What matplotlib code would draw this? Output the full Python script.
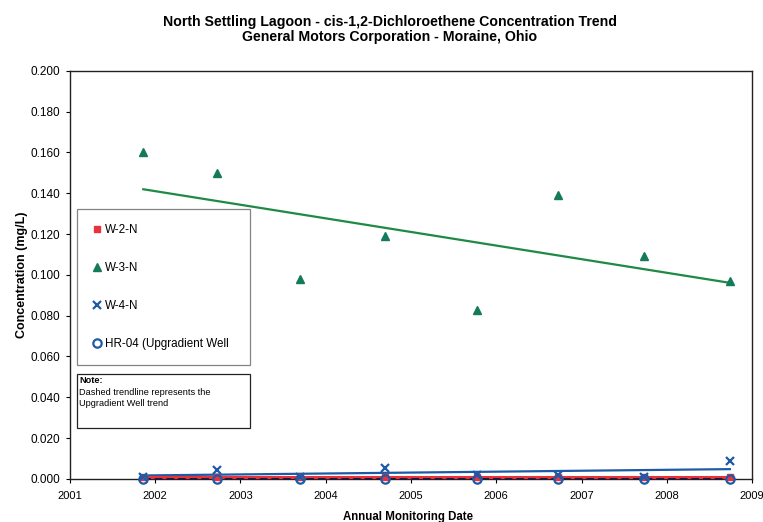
import numpy as np
import matplotlib
matplotlib.use("Agg")
import matplotlib.pyplot as plt
from matplotlib.patches import Rectangle

plt.rcParams['font.family'] = ['Liberation Sans', 'DejaVu Sans']

# ---- data ----
dates = [2001.86, 2002.72, 2003.70, 2004.69, 2005.78, 2006.73, 2007.73, 2008.74]
w2n = [0.0008, 0.0008, 0.0008, 0.0008, 0.0008, 0.0008, 0.0008, 0.0008]
w3n = [0.160, 0.150, 0.098, 0.119, 0.083, 0.139, 0.109, 0.097]
w4n = [0.001, 0.0045, 0.001, 0.0055, 0.002, 0.002, 0.001, 0.009]
hr04 = [0.0, 0.0, 0.0, 0.0, 0.0, 0.0, 0.0, 0.0]
series_names = ["W-2-N", "W-3-N", "W-4-N", "HR-04 (Upgradient Well"]
y_ticks = [0.000, 0.020, 0.040, 0.060, 0.080, 0.100, 0.120, 0.140, 0.160, 0.180, 0.200]
x_ticks = [2001, 2002, 2003, 2004, 2005, 2006, 2007, 2008, 2009]

fig = plt.figure(figsize=(7.63, 5.22), dpi=100)
ax = fig.add_axes([0.0917, 0.0824, 0.8939, 0.7822])

x = np.array(dates)

def trend(vals):
    p = np.polyfit(x, np.array(vals), 1)
    return np.polyval(p, x)

c_red = '#e8333d'
c_green = '#1e8a45'
c_tri = '#137a5a'
c_blue = '#1f5aa6'

# trendlines
ax.plot(x, trend(w3n), color=c_green, lw=1.6, zorder=2)
ax.plot(x, trend(w4n), color=c_blue, lw=1.6, zorder=2, clip_on=False)
ax.plot(x, trend(w2n), color=c_red, lw=2.2, zorder=3, clip_on=False)
ax.plot(x, trend(hr04), color='#1a1a3a', lw=1.4, ls=(0, (4, 2)), zorder=4, clip_on=False)

# markers
ax.plot(x, w2n, ls='none', marker='s', ms=5, color=c_red, label=series_names[0], zorder=5, clip_on=False)
ax.plot(x, w3n, ls='none', marker='^', ms=5.5, color=c_tri, label=series_names[1], zorder=5, clip_on=False)
ax.plot(x, w4n, ls='none', marker='x', ms=5.5, mew=1.6, color=c_blue, label=series_names[2], zorder=6, clip_on=False)
ax.plot(x, hr04, ls='none', marker='o', ms=6, mew=1.6, mfc='none', mec=c_blue, label=series_names[3], zorder=6, clip_on=False)

ax.set_xlim(2001, 2009)
ax.set_ylim(0, 0.2)
ax.set_xticks(x_ticks)
ax.set_xticklabels([str(t) for t in x_ticks], fontsize=8)
ax.set_yticks(y_ticks)
ax.set_yticklabels([f"{t:.3f}" for t in y_ticks], fontsize=8.5)
ax.tick_params(axis='both', direction='out', length=3, width=0.8, pad=4)
ax.tick_params(axis='x', pad=6)
for s in ax.spines.values():
    s.set_linewidth(1.0)
    s.set_color('#222222')

ax.set_ylabel("Concentration (mg/L)", fontsize=9, fontweight='bold')
ax.yaxis.set_label_coords(-0.062, 0.5)
ax.set_xlabel("Annual Monitoring Date", fontsize=8.3, fontweight='bold')
ax.xaxis.set_label_coords(0.495, -0.078)

fig.text(0.511, 0.972, "North Settling Lagoon - cis-1,2-Dichloroethene Concentration Trend\nGeneral Motors Corporation - Moraine, Ohio",
         ha='center', va='top', fontsize=10.2, fontweight='bold', linespacing=1.1)

leg = ax.legend(loc='upper left', bbox_to_anchor=(0.0103, 0.661, 0.2537, 0.0), mode='expand',
                fontsize=8.4, frameon=True, fancybox=False, edgecolor='#666666',
                labelspacing=2.24, handletextpad=0.15, handlelength=1.0, borderpad=1.25,
                borderaxespad=0)
leg.get_frame().set_linewidth(0.9)

# note box
ax.add_patch(Rectangle((0.0103, 0.125), 0.2537, 0.132, transform=ax.transAxes,
                       fill=False, ec='#222222', lw=0.9, zorder=7))
ax.text(0.0135, 0.253, "Note:", transform=ax.transAxes, fontsize=6.6, fontweight='bold', va='top', ha='left')
ax.text(0.0135, 0.222, "Dashed trendline represents the\nUpgradient Well trend", transform=ax.transAxes,
        fontsize=6.6, va='top', ha='left', linespacing=1.3)

fig.savefig("out.png", dpi=100)
